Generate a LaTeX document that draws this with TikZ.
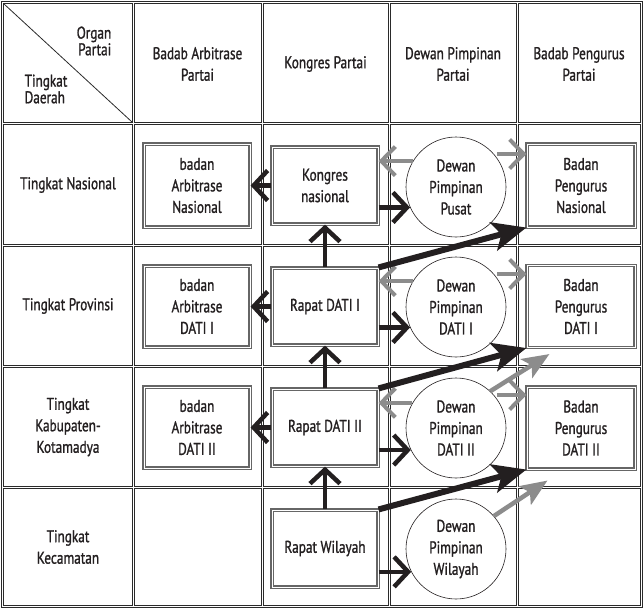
\documentclass[tikz,border=0pt]{standalone}
\usepackage{fontspec}
\setmainfont{PT Sans}[FakeStretch=0.78,FakeBold=1.2]
\usetikzlibrary{arrows.meta,calc}
\definecolor{ink}{HTML}{231F20}
\definecolor{arrgray}{HTML}{8C8C8C}
\definecolor{gridc}{HTML}{2A2A2A}
\begin{document}
\begin{tikzpicture}[x=1pt,y=-1pt,
  font=\fontsize{17}{21.5}\selectfont,
  cell/.style={draw=gridc, line width=0.8pt},
  frame/.style={draw=gridc, line width=0.8pt},
  box/.style={draw=black!60, double=white, double distance=0.9pt, line width=1.1pt,
     minimum width=106pt, minimum height=#1, inner sep=0pt, align=center, text=ink},
  box/.default=80pt,
  org/.style={circle, draw=ink, line width=0.6pt, minimum size=100pt, inner sep=0pt, align=center, text=ink},
  lbl/.style={align=center, text=ink, inner sep=0pt},
  barr/.style={draw=ink, line width=4.5pt, -{Straight Barb[length=14pt,width=30pt]}},
  garr/.style={draw=arrgray, line width=4pt, -{Straight Barb[length=14pt,width=29pt]}},
  bdiag/.style={draw=ink, line width=6pt, -{Stealth[length=34pt,width=29pt,inset=8pt]}},
  gdiag/.style={draw=arrgray, line width=4.5pt, -{Stealth[length=27pt,width=22pt,inset=6pt]}}
]
\useasboundingbox (0,0) rectangle (643,608);
% outer frame
\draw[frame] (1.4,1.4) rectangle (642.1,607.1);
% cells
\foreach \xa/\xb in {2.5/133,133/262,262/389,389/517,517/641}{
  \foreach \ya/\yb in {2.5/123,123/245,245/366,366/487,487/606}{
    \draw[cell] (\xa+1.1,\ya+1.1) rectangle (\xb-1.1,\yb-1.1);
  }
}
% corner diagonal
\draw[draw=gridc, line width=0.8pt] (3.6,3.6) -- (131.9,121.9);
\node[lbl, align=right, font=\fontsize{17}{15}\selectfont] (organ) at (94,41) {Organ\\Partai};
\node[lbl, align=left, font=\fontsize{17}{15}\selectfont] (tingkat) at (46,89) {Tingkat\\Daerah};
% column headers
\node[lbl] (h1) at (197.5,64) {Badab Arbitrase\\Partai};
\node[lbl] (h2) at (325.5,64) {Kongres Partai};
\node[lbl] (h3) at (453,64) {Dewan Pimpinan\\Partai};
\node[lbl] (h4) at (579,64) {Badab Pengurus\\Partai};
% row labels
\node[lbl] (l1) at (68,185) {Tingkat Nasional};
\node[lbl] (l2) at (68,306) {Tingkat Provinsi};
\node[lbl] (l3) at (68,427) {Tingkat\\Kabupaten-\\Kotamadya};
\node[lbl] (l4) at (68,547) {Tingkat\\Kecamatan};
% arbitrase boxes
\node[box=83pt] (arbN) at (197,185.5) {badan\\Arbitrase\\Nasional};
\node[box=81pt] (arb1) at (197,306.5) {badan\\Arbitrase\\DATI I};
\node[box=81pt] (arb2) at (197,427.5) {badan\\Arbitrase\\DATI II};
% kongres / rapat boxes
\node[box=77pt] (kn) at (325,185.5) {Kongres\\nasional};
\node[box=77pt] (r1) at (325,306.5) {Rapat DATI I};
\node[box=77pt] (r2) at (325,427.5) {Rapat DATI II};
\node[box=77pt] (rw) at (325,548.5) {Rapat Wilayah};
% dewan circles
\node[org] (dpp) at (456,187) {Dewan\\Pimpinan\\Pusat};
\node[org] (dp1) at (456,307) {Dewan\\Pimpinan\\DATI I};
\node[org] (dp2) at (456,428) {Dewan\\Pimpinan\\DATI II};
\node[org] (dpw) at (456,549) {Dewan\\Pimpinan\\Wilayah};
% pengurus boxes
\node[box=83pt, minimum width=108pt] (bpn) at (581,185.5) {Badan\\Pengurus\\Nasional};
\node[box=82pt, minimum width=108pt] (bp1) at (581,306.5) {Badan\\Pengurus\\DATI I};
\node[box=82pt, minimum width=108pt] (bp2) at (581,428) {Badan\\Pengurus\\DATI II};
\coordinate (g1) at ($(bp1.south west)+(23,6)$);
\coordinate (g2) at ($(bp2.south west)+(21,11)$);
% arrows row 1
\draw[barr] (kn.west) -- (kn.west -| arbN.east);
\draw[barr] (kn.east |- dpp.204) -- (dpp.204);
\draw[garr] (dpp.149) -- (dpp.149 -| kn.east);
\draw[garr, shorten <=3pt] (dpp.41) -- (dpp.41 -| bpn.west);
% row 2
\draw[barr] (r1.north) -- (kn.south);
\draw[barr] (r1.west) -- (r1.west -| arb1.east);
\draw[barr] (r1.east |- dp1.204) -- (dp1.204);
\draw[garr] (dp1.149) -- (dp1.149 -| r1.east);
\draw[garr, shorten <=3pt] (dp1.41) -- (dp1.41 -| bp1.west);
% row 3
\draw[barr] (r2.north) -- (r1.south);
\draw[barr] (r2.west) -- (r2.west -| arb2.east);
\draw[barr] (r2.east |- dp2.206) -- (dp2.206);
\draw[garr] (dp2.150) -- (dp2.150 -| r2.east);
\draw[garr, shorten <=3pt] (dp2.41) -- (dp2.41 -| bp2.west);
% row 4
\draw[barr] (rw.north) -- (r2.south);
\draw[barr] (rw.east |- dpw.207) -- (dpw.207);
% diagonals
\draw[bdiag] (r1.north east) -- (bpn.south west);
\draw[bdiag] (r2.north east) -- (bp1.south west);
\draw[bdiag] (rw.north east) -- (bp2.south west);
\draw[gdiag] (dp2.47) -- (g1);
\draw[gdiag] (dpw.41) -- (g2);
\end{tikzpicture}
\end{document}
